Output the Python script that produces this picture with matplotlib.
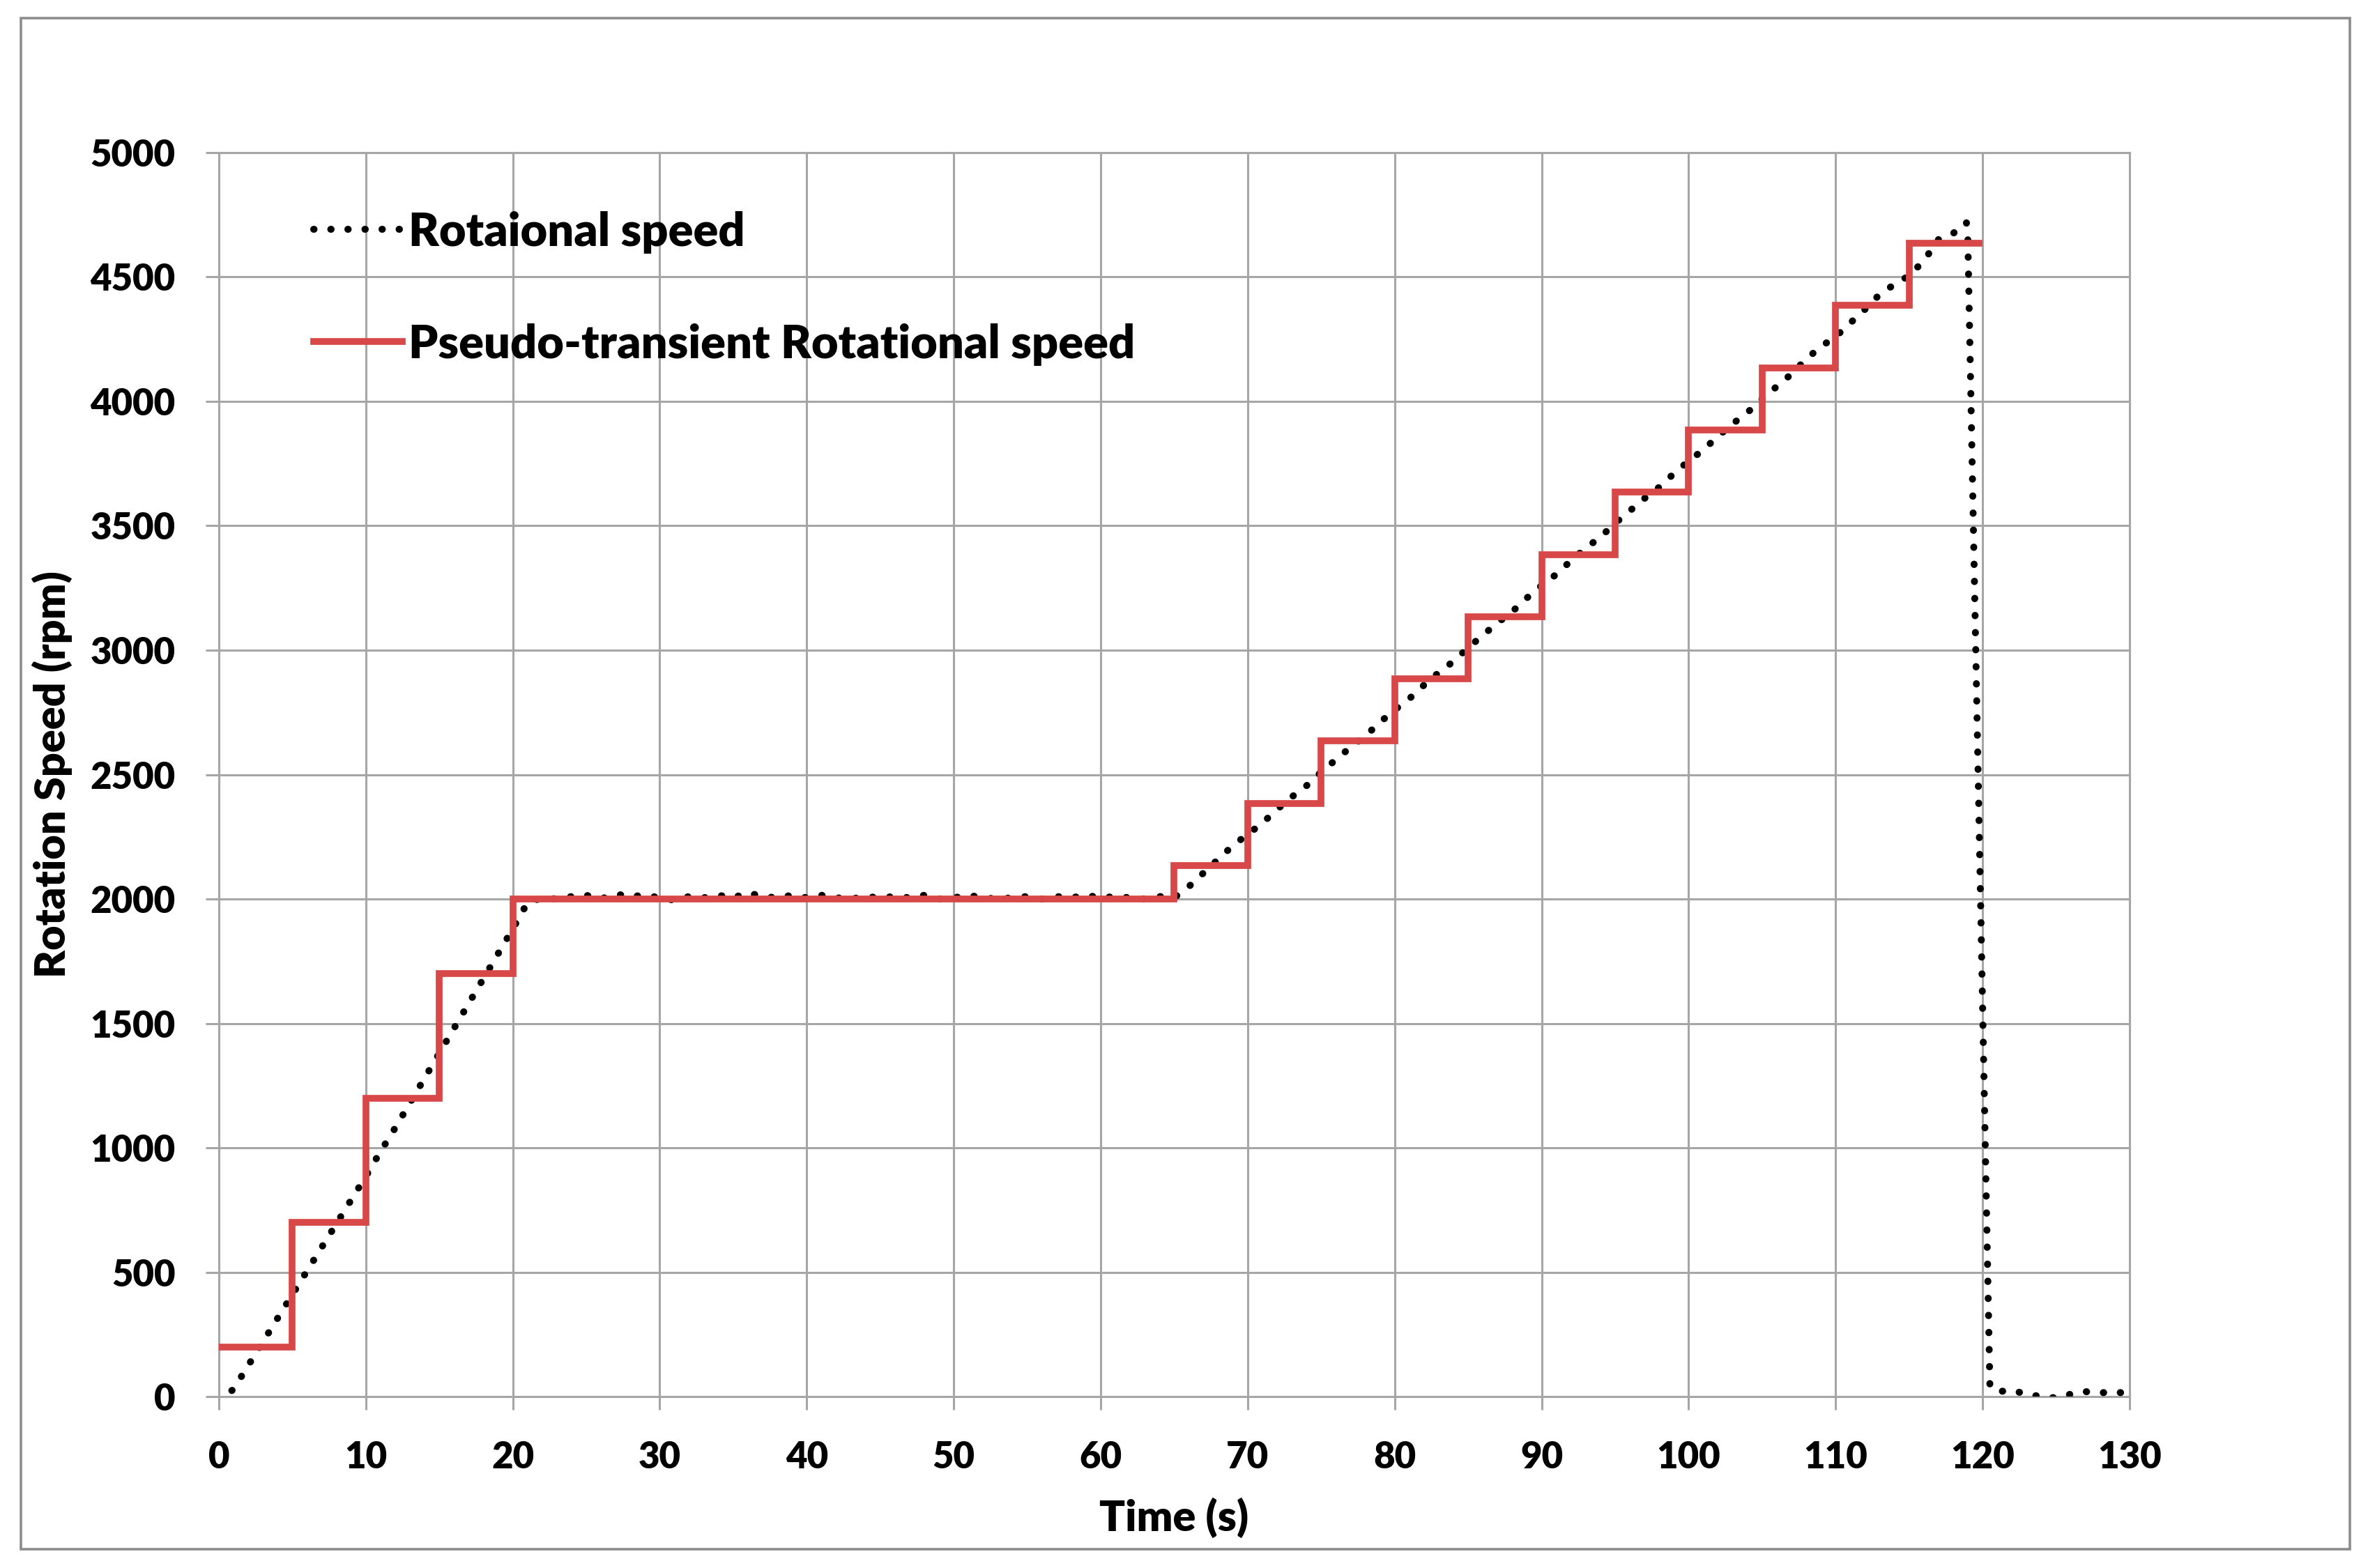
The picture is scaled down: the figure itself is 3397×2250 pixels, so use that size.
import matplotlib
matplotlib.use("Agg")
import matplotlib.pyplot as plt
from matplotlib.patches import Rectangle

# Measured rotational speed (rpm) vs time (s)
time_meas = [0, 1, 2, 3, 4, 5, 6, 7, 8, 9, 10, 11, 12, 13, 14, 15, 16, 17, 18, 19, 20, 21,
             22, 23, 24, 25, 26, 27, 28, 29, 30, 31, 32, 33, 34, 35, 36, 37, 38, 39, 40,
             41, 42, 43, 44, 45, 46, 47, 48, 49, 50, 51, 52, 53, 54, 55, 56, 57, 58, 59, 60,
             61, 62, 63, 64, 65, 66, 67, 68, 69, 70, 71, 72, 73, 74, 75, 76, 77, 78, 79, 80,
             81, 82, 83, 84, 85, 86, 87, 88, 89, 90, 91, 92, 93, 94, 95, 96, 97, 98, 99, 100,
             101, 102, 103, 104, 105, 106, 107, 108, 109, 110, 111, 112, 113, 114, 115, 116,
             117, 118, 118.9, 119, 120.5, 121, 122, 123, 124, 125, 126, 127, 128, 129, 130]
speed_meas = [-20, 30, 125, 220, 315, 410, 505, 600, 695, 790, 885, 985, 1080, 1180, 1280, 1380,
              1480, 1580, 1680, 1780, 1880, 1985,
              2005, 2000, 2010, 2015, 2000, 2020, 2010, 2015, 2005, 1995, 2010, 2005, 2015,
              2005, 2025, 2010, 2005, 2015, 2005, 2015, 2005, 2000, 2010, 2005, 2010, 2005,
              2015, 2000, 2005, 2015, 2005, 2000, 2005, 2010, 2000, 2010, 2005, 2015, 2005,
              2010, 2005, 2000, 2010,
              2005, 2050, 2105, 2160, 2215, 2260, 2305, 2360, 2410, 2455, 2510, 2560, 2610,
              2655, 2710, 2760, 2805, 2860, 2910, 2955, 3010, 3060, 3110, 3155, 3210, 3260,
              3305, 3360, 3410, 3455, 3510, 3560, 3610, 3655, 3710, 3760, 3805, 3860, 3910,
              3955, 4010, 4060, 4110, 4170, 4220, 4260, 4315, 4370, 4430, 4470, 4505, 4565,
              4650, 4675, 4720, 4650, 40, 20, 25, 10, 0, -5, 10, 20, 15, 20, 10]

# Pseudo-transient step levels (rpm), each held over [start, end)
step_edges = [0, 5, 10, 15, 20, 65, 70, 75, 80, 85, 90, 95, 100, 105, 110, 115, 120]
step_levels = [200, 700, 1200, 1700, 2000, 2135, 2385, 2635, 2885, 3135, 3385, 3635,
               3885, 4135, 4385, 4635]

x_ticks = list(range(0, 131, 10))
y_ticks = list(range(0, 5001, 500))

plt.rcParams['font.family'] = ['Lato', 'DejaVu Sans']
plt.rcParams['font.weight'] = 'heavy'

fig = plt.figure(figsize=(33.97, 22.5), dpi=100)
ax = fig.add_axes([0.0924, 0.1093, 0.8069, 0.7934])

grid_col = '#a6a6a6'

ax.plot(time_meas, speed_meas, color='black', lw=7.2, linestyle=(0, (0.05, 2.4)),
        dash_capstyle='round', label='Rotaional speed', zorder=3)
ax.stairs(step_levels, step_edges, color='#d94848', lw=7, baseline=None,
          label='Pseudo-transient Rotational speed', zorder=4)

ax.set_xlim(0, 130)
ax.set_ylim(0, 5000)
ax.set_xticks(x_ticks)
ax.set_yticks(y_ticks)
ax.grid(True, color=grid_col, lw=2.2)
ax.set_axisbelow(True)
for s in ax.spines.values():
    s.set_color(grid_col)
    s.set_linewidth(2.2)
ax.tick_params(axis='both', colors=grid_col, width=2.2, length=14, labelcolor='black',
               labelsize=38)
ax.tick_params(axis='y', pad=31)
ax.tick_params(axis='x', pad=31)
for lbl in ax.get_xticklabels() + ax.get_yticklabels():
    lbl.set_fontweight('heavy')

ax.set_xlabel('Time (s)', fontsize=44, fontweight='heavy', labelpad=24)
ax.set_ylabel('Rotation Speed (rpm)', fontsize=44, fontweight='heavy', labelpad=18)

leg = ax.legend(loc='upper left', bbox_to_anchor=(0.0498, 0.953), frameon=False,
                handlelength=1.9, handletextpad=0.13, labelspacing=1.5,
                borderpad=0, borderaxespad=0,
                prop={'weight': 'heavy', 'size': 48})

# grey outer border around the whole chart
fig.patches.append(Rectangle((30 / 3397, 1 - 2223 / 2250), 3341 / 3397, 2197 / 2250,
                             transform=fig.transFigure, fill=False, edgecolor='#8c8c8c',
                             lw=2.6, zorder=0))

fig.savefig('out.png', dpi=100)
